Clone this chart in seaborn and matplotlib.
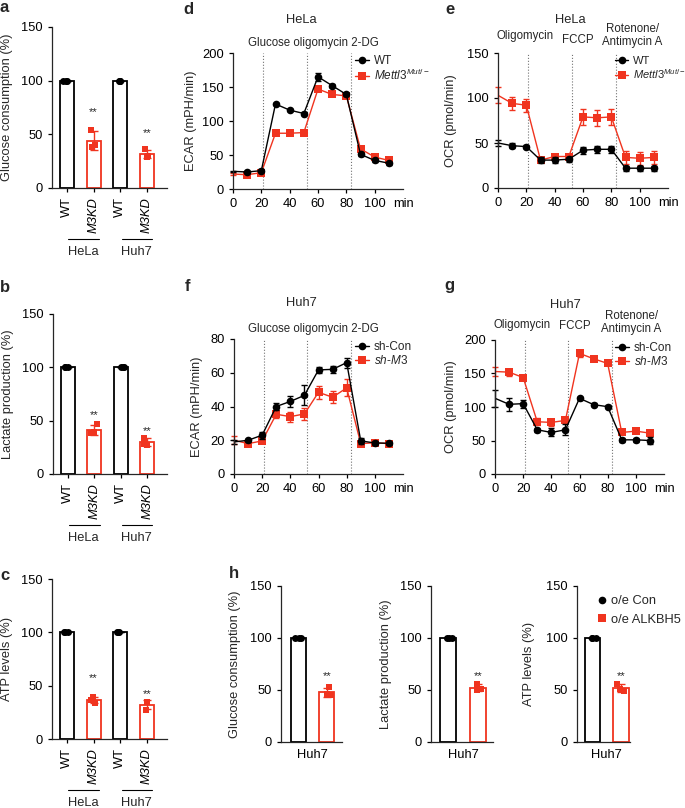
import numpy as np
import pandas as pd
import matplotlib
matplotlib.use('Agg')
import matplotlib.pyplot as plt
import seaborn as sns
from matplotlib.lines import Line2D

RED = '#f0341f'

# ---- bar panels a-c (replicates, % of WT) ----
bar_order = ['HeLa WT', 'HeLa M3KD', 'Huh7 WT', 'Huh7 M3KD']
bar_ticklabels = ['WT', 'M3KD', 'WT', 'M3KD']
cell_lines = ['HeLa', 'Huh7']
wt_rep = [100, 100, 100]
a_hela_kd = [54, 40, 38]
a_huh7_kd = [36, 30, 29]
b_hela_kd = [47, 38, 39]
b_huh7_kd = [34, 27, 28]
c_hela_kd = [39, 37, 34]
c_huh7_kd = [35, 35, 27]
a_stars = [71, 51]
b_stars = [55, 40]
c_stars = [57, 42]

# ---- seahorse panels d-g ----
time_min = [0, 10, 20, 30, 40, 50, 60, 70, 80, 90, 100, 110]
d_wt = [26, 25, 27, 125, 116, 111, 165, 152, 139, 51, 42, 38]
d_wt_err = [1, 2, 2, 2, 2, 2, 6, 2, 2, 2, 2, 2]
d_mut = [22, 21, 24, 82, 82, 83, 147, 139, 137, 59, 47, 42]
d_mut_err = [1, 2, 2, 2, 2, 2, 3, 2, 2, 2, 2, 2]
e_wt = [50, 47, 46, 31, 31, 32, 42, 43, 43, 22, 22, 22]
e_wt_err = [3, 3, 2, 3, 3, 3, 4, 4, 4, 3, 3, 3]
e_mut = [103, 94, 92, 31, 35, 35, 79, 78, 79, 34, 33, 34]
e_mut_err = [9, 7, 7, 2, 3, 3, 9, 9, 9, 7, 7, 7]
f_con = [19, 20, 23, 40, 43, 46.6, 61.7, 62, 66, 19.6, 18.4, 18.2]
f_con_err = [1, 1, 2, 2, 3, 6, 2, 2, 3, 2, 1, 1]
f_m3 = [20, 18, 19.6, 35.4, 34, 35.6, 48.4, 45.5, 51, 18, 18.5, 18]
f_m3_err = [2.5, 1.5, 1.5, 2, 3, 3.5, 4, 3.5, 5, 1.5, 1, 1]
g_con = [113, 104, 105, 66, 62, 66, 113, 103.5, 100.5, 51, 51, 50]
g_con_err = [13, 10, 6, 3, 6, 8, 2, 2, 2, 3, 3, 5]
g_m3 = [153, 152, 144, 78, 77, 80, 180, 172, 165, 62, 64, 61]
g_m3_err = [7, 5, 3, 5, 5, 3, 5, 3, 3, 3, 3, 3]
injections = [21, 52, 83]

# ---- panel h (Huh7, o/e) ----
h_order = ['o/e Con', 'o/e ALKBH5']
h_con = [100, 100, 100]
h_glucose = [53, 45, 46]
h_lactate = [56, 50, 51]
h_atp = [56, 51, 49]
h_stars = 63

sns.set_style('ticks')
plt.rcParams['font.family'] = ['Liberation Sans', 'DejaVu Sans']
plt.rcParams['mathtext.fontset'] = 'custom'
plt.rcParams['mathtext.rm'] = 'Liberation Sans'
plt.rcParams['mathtext.it'] = 'Liberation Sans:italic'
plt.rcParams['axes.linewidth'] = 0.9
plt.rcParams['xtick.major.width'] = 0.9
plt.rcParams['ytick.major.width'] = 0.9
plt.rcParams['xtick.major.size'] = 3
plt.rcParams['ytick.major.size'] = 3
FS = 9.3
SMALL = 8.3

W, H = 685, 808
fig = plt.figure(figsize=(W / 100, H / 100), dpi=100)
np.random.seed(2)


def add_ax(l, t, r, b):
    return fig.add_axes([l / W, 1 - b / H, (r - l) / W, (b - t) / H])


def style_ax(ax, ylabel, label_dx):
    sns.despine(ax=ax)
    ax.tick_params(labelsize=FS, colors='black')
    ax.set_ylabel(ylabel, fontsize=FS)
    w = ax.get_position().width * W
    ax.yaxis.set_label_coords(-label_dx / w, 0.5)


def bar_points(ax, df, order, geno_ctrl, palette):
    sns.barplot(data=df, x='cond', y='value', hue='geno', order=order, palette=palette,
                fill=False, errorbar=None, width=0.52, dodge=False, legend=False,
                linewidth=1.3, ax=ax)
    for i, c in enumerate(order):
        sub = df[df.cond == c]
        col = palette[sub.geno.iloc[0]]
        ax.errorbar(i, sub.value.mean(), yerr=sub.value.std(), fmt='none', ecolor=col,
                    elinewidth=1.0, capsize=3, capthick=1.0, zorder=3)
    sns.stripplot(data=df[df.geno == geno_ctrl], x='cond', y='value', order=order,
                  color='black', marker='o', size=5, jitter=0.15, ax=ax, zorder=4)
    sns.stripplot(data=df[df.geno != geno_ctrl], x='cond', y='value', order=order,
                  color=RED, marker='s', size=4.8, jitter=0.15, ax=ax, zorder=4)


def bar_panel(ax, hela_kd, huh7_kd, stars, ylabel):
    reps = [wt_rep, hela_kd, wt_rep, huh7_kd]
    df = pd.DataFrame({
        'cond': [c for c, r in zip(bar_order, reps) for _ in r],
        'geno': [c.split()[1] for c, r in zip(bar_order, reps) for _ in r],
        'value': [v for r in reps for v in r],
    })
    bar_points(ax, df, bar_order, 'WT', {'WT': 'black', 'M3KD': RED})
    for i, s in zip([1, 3], stars):
        ax.text(i, s, '**', ha='center', va='center', fontsize=8)
    ax.set_ylim(0, 150)
    ax.set_yticks([0, 50, 100, 150])
    ax.set_xlim(-0.56, 3.75)
    ax.set_xticks(range(4))
    ax.set_xticklabels(bar_ticklabels, rotation=90)
    ax.set_xlabel('')
    style_ax(ax, ylabel, 39)
    for lab in ax.get_xticklabels():
        if lab.get_text() == 'M3KD':
            lab.set_style('italic')
    h = ax.get_position().height * H
    tr = ax.get_xaxis_transform()
    for g, name in zip([0, 2], cell_lines):
        ax.plot([g + 0.05, g + 1.2], [-51 / h, -51 / h], color='black', lw=0.8,
                transform=tr, clip_on=False)
        ax.text(g + 0.6, -64 / h, name, ha='center', va='center', fontsize=FS,
                transform=tr)


def line_panel(ax, ctrl, ctrl_err, treat, treat_err, ymax, ystep, ylabel, label_dx):
    for y, e, col, mk in [(treat, treat_err, RED, 's'), (ctrl, ctrl_err, 'black', 'o')]:
        sns.lineplot(x=time_min, y=y, color=col, marker=mk, markersize=5.5,
                     markeredgewidth=0, lw=1.0, markevery=list(range(1, 12)), ax=ax)
        ax.errorbar(time_min, y, yerr=e, fmt='none', ecolor=col, elinewidth=1.0,
                    capsize=2.5, capthick=1.0, clip_on=False)
    for x in injections:
        ax.axvline(x, color='0.45', ls=':', lw=0.8, zorder=0)
    ax.set_xlim(0, 120)
    ax.set_ylim(0, ymax)
    ax.set_yticks(np.arange(0, ymax + 1, ystep))
    ax.set_xticks([0, 20, 40, 60, 80, 100, 120])
    ax.set_xticklabels(['0', '20', '40', '60', '80', '100', 'min'])
    ax.xaxis.get_major_ticks()[-1].tick1line.set_visible(False)
    style_ax(ax, ylabel, label_dx)
    return [Line2D([], [], color='black', marker='o', markersize=5.5, lw=1.0,
                   markeredgewidth=0),
            Line2D([], [], color=RED, marker='s', markersize=5.5, lw=1.0,
                   markeredgewidth=0)]


def legend_at(ax, handles, labels, x, y, fs=8.5, hl=1.2, spacing=0.1):
    ax.legend(handles, labels, loc='upper left', bbox_to_anchor=(x / W, 1 - y / H),
              bbox_transform=fig.transFigure, frameon=False, fontsize=fs,
              handlelength=hl, handletextpad=0.4, labelspacing=spacing,
              borderpad=0, borderaxespad=0)


def top_text(ax, x, dy_px, s, fs=SMALL, va='baseline'):
    ax.annotate(s, xy=(x, 1), xycoords=('data', 'axes fraction'),
                xytext=(0, dy_px * 0.72), textcoords='offset points',
                ha='center', va=va, fontsize=fs, linespacing=1.1)


# ---- a, b, c ----
bar_panel(add_ax(52, 27, 167, 188), a_hela_kd, a_huh7_kd, a_stars,
          'Glucose consumption (%)')
bar_panel(add_ax(53, 314, 167, 474), b_hela_kd, b_huh7_kd, b_stars,
          'Lactate production (%)')
bar_panel(add_ax(52, 579, 167, 739), c_hela_kd, c_huh7_kd, c_stars, 'ATP levels (%)')

mut_label = r'$\mathit{Mettl3}^{\mathit{Mut/-}}$'
sh_label = r'$\mathit{sh}$-$\mathit{M3}$'

# ---- d ----
ax = add_ax(233, 53, 403, 189)
hd = line_panel(ax, d_wt, d_wt_err, d_mut, d_mut_err, 200, 50, 'ECAR (mPH/min)', 36)
top_text(ax, 48, 33, 'HeLa', fs=FS, va='center')
top_text(ax, 56.5, 7, 'Glucose oligomycin 2-DG')
legend_at(ax, hd, ['WT', mut_label], 355, 55)

# ---- e ----
ax = add_ax(498, 53, 668, 188)
he = line_panel(ax, e_wt, e_wt_err, e_mut, e_mut_err, 150, 50, 'OCR (pmol/min)', 41)
top_text(ax, 51, 33, 'HeLa', fs=FS, va='center')
top_text(ax, 19, 14, 'Oligomycin')
top_text(ax, 56, 10, 'FCCP')
top_text(ax, 95, 8, 'Rotenone/\nAntimycin A')
legend_at(ax, he, ['WT', mut_label], 615, 56, fs=8)

# ---- f ----
ax = add_ax(234, 339, 403, 474)
hf = line_panel(ax, f_con, f_con_err, f_m3, f_m3_err, 80, 20, 'ECAR (mPH/min)', 31)
top_text(ax, 48, 36, 'Huh7', fs=FS, va='center')
top_text(ax, 56.5, 7, 'Glucose oligomycin 2-DG')
legend_at(ax, hf, ['sh-Con', sh_label], 355, 341)

# ---- g ----
ax = add_ax(495, 340, 664, 474)
hg = line_panel(ax, g_con, g_con_err, g_m3, g_m3_err, 200, 50, 'OCR (pmol/min)', 38)
top_text(ax, 50, 35, 'Huh7', fs=FS, va='center')
top_text(ax, 19, 12, 'Oligomycin')
top_text(ax, 56.5, 11, 'FCCP')
top_text(ax, 97, 8, 'Rotenone/\nAntimycin A')
legend_at(ax, hg, ['sh-Con', sh_label], 615, 342)

# ---- h ----
h_specs = [((281, 586, 342, 742), h_glucose, 'Glucose consumption (%)', (-0.59, 1.52), 40),
           ((431, 586, 493, 742), h_lactate, 'Lactate production (%)', (-0.57, 1.5), 39),
           ((577, 586, 630, 742), h_atp, 'ATP levels (%)', (-0.52, 1.31), 42)]
for box, reps, ylabel, xl, dx in h_specs:
    ax = add_ax(*box)
    df = pd.DataFrame({'cond': [h_order[0]] * 3 + [h_order[1]] * 3,
                       'value': h_con + reps})
    df['geno'] = df['cond']
    bar_points(ax, df, h_order, h_order[0], {h_order[0]: 'black', h_order[1]: RED})
    ax.text(1, h_stars, '**', ha='center', va='center', fontsize=8)
    ax.set_ylim(0, 150)
    ax.set_yticks([0, 50, 100, 150])
    ax.set_xlim(*xl)
    ax.set_xticks([0.5])
    ax.set_xticklabels(['Huh7'])
    ax.tick_params(axis='x', length=0, pad=5)
    ax.set_xlabel('')
    style_ax(ax, ylabel, dx)
hh = [Line2D([], [], color='black', marker='o', ls='none', markersize=5.5, markeredgewidth=0),
      Line2D([], [], color=RED, marker='s', ls='none', markersize=5.5, markeredgewidth=0)]
legend_at(ax, hh, h_order, 598, 595, fs=FS, hl=0.6, spacing=0.5)

# panel letters
for letter, x, y in [('a', 0, 12), ('b', 0, 292), ('c', 0, 580), ('d', 183, 14),
                     ('e', 445, 14), ('f', 185, 291), ('g', 444, 290), ('h', 229, 578)]:
    fig.text(x / W, 1 - y / H, letter, fontsize=12, fontweight='bold', va='baseline')

fig.savefig('out.png', dpi=100)
